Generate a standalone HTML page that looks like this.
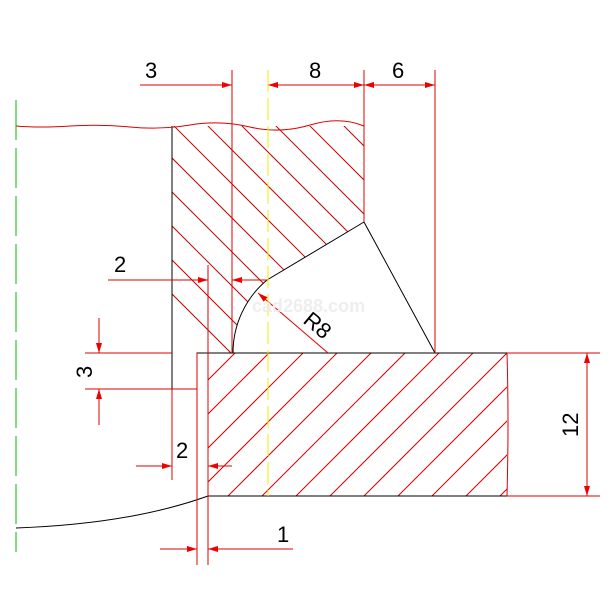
<!DOCTYPE html><html><head><style>body{margin:0;background:#fff}</style></head><body>
<svg width="610" height="610" viewBox="0 0 610 610" xmlns="http://www.w3.org/2000/svg" font-family="Liberation Sans, sans-serif">
<defs>
<marker id="a" viewBox="0 0 10 6" refX="10" refY="3" markerWidth="16" markerHeight="6" markerUnits="userSpaceOnUse" orient="auto-start-reverse"><path d="M0,0L10,3L0,6z" fill="#e00"/></marker>
<clipPath id="up"><path d="M172,126L364,126L364,222L267,280A95,95 0 0 0 233,353L197,353L197,389L172,389Z"/></clipPath>
<clipPath id="lo"><path d="M208,353L507,353L507,496L208,496Z"/></clipPath>
</defs>
<g clip-path="url(#up)" stroke="#c00" stroke-width="1">
<path d="M40,60l340,340M74,60l340,340M108,60l340,340M142,60l340,340M176,60l340,340M210,60l340,340M244,60l340,340M278,60l340,340M312,60l340,340M6,60l340,340M-28,60l340,340M-62,60l340,340"/>
</g>
<g clip-path="url(#lo)" stroke="#c00" stroke-width="1">
<path d="M208,380l200,-200M242,380l200,-200M208,414l200,-200M208,448l200,-200M208,482l200,-200M208,516l200,-200M242,516l200,-200M276,516l200,-200M310,516l200,-200M344,516l200,-200M378,516l200,-200M412,516l200,-200M446,516l200,-200M480,516l200,-200M514,516l200,-200M548,516l200,-200"/>
</g>
<g stroke="#000" fill="none" stroke-width="1">
<path d="M172,126V389H197V353H507M208,496H507M364,222L267,280A95,95 0 0 0 233,353M364,222L435,353M16,528Q130,524 208,496"/>
</g>
<g stroke="#d00" fill="none" stroke-width="1">
<path d="M16,126Q40,128 70,126T130,127T190,125T250,127T310,125T364,126"/>
<path d="M364,70V222M435,70V353M232,70V353M507,353Q509,420 507,496M208,265V565M197,353V565M172,389V480"/>
<path d="M507,353H600M507,496H600M85,353H172M85,389H197"/>
<path d="M140,85H232" marker-end="url(#a)"/>
<path d="M268,85H364" marker-start="url(#a)" marker-end="url(#a)"/>
<path d="M364,85H435" marker-start="url(#a)" marker-end="url(#a)"/>
<path d="M108,280H208" marker-end="url(#a)"/>
<path d="M268,280H232" marker-end="url(#a)"/>
<path d="M136,466H172" marker-end="url(#a)"/>
<path d="M232,466H208" marker-end="url(#a)"/>
<path d="M160,549H197" marker-end="url(#a)"/>
<path d="M293,549H208" marker-end="url(#a)"/>
<path d="M99,318V353" marker-end="url(#a)"/>
<path d="M99,425V389" marker-end="url(#a)"/>
<path d="M587,353V496" marker-start="url(#a)" marker-end="url(#a)"/>
<path d="M328,353L258,293" marker-end="url(#a)"/>
</g>
<path d="M268,70V496" stroke="#ee0" stroke-width="1" stroke-dasharray="22,6"/>
<path d="M16,100V552" stroke="#0b0" stroke-width="1" stroke-dasharray="40,8"/>
<g font-size="22" fill="#000">
<text x="145" y="78">3</text><text x="309" y="78">8</text><text x="392" y="78">6</text>
<text x="114" y="272">2</text><text x="176" y="458">2</text><text x="277" y="542">1</text>
<text transform="translate(92,378) rotate(-90)">3</text>
<text transform="translate(578,437) rotate(-90)">12</text>
<text transform="translate(302,322) rotate(40)">R8</text>
</g>
<text x="252" y="312" font-size="18" font-weight="bold" fill="#eee">cad2688.com</text>
</svg></body></html>
